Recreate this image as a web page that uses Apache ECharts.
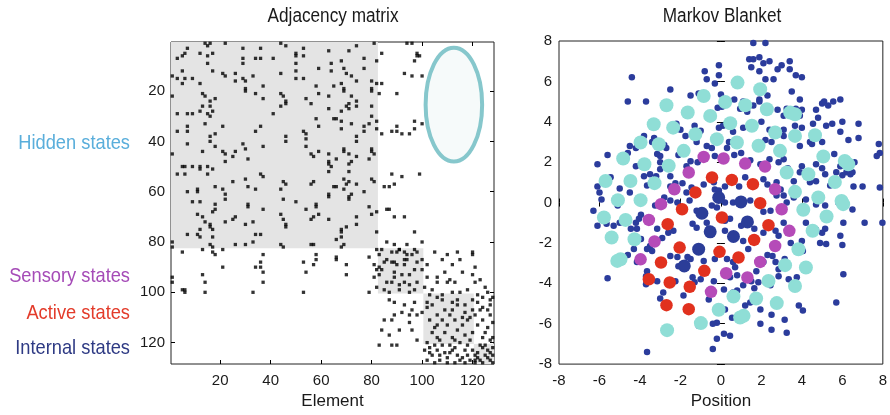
<!DOCTYPE html>
<html>
<head>
<meta charset="utf-8">
<script src="https://cdn.jsdelivr.net/npm/echarts@6/dist/echarts.min.js"></script>
<style>
html,body{margin:0;padding:0;background:#fff;}
#chart{width:890px;height:415px;}
</style>
</head>
<body>
<div id="chart"></div>
<script>
// ---------- DATA ----------
var matrixTicks = [20, 40, 60, 80, 100, 120];
var positionTicks = [-8, -6, -4, -2, 0, 2, 4, 6, 8];
var titles = ['Adjacency matrix', 'Markov Blanket'];
var stateNames = ['Hidden states', 'Sensory states', 'Active states', 'Internal states'];
// block boundaries (element index) for hidden, sensory, active, internal
var blockBounds = [[0.5, 82.5], [82.5, 100.5], [100.5, 120.5], [120.5, 128.5]];
// ellipse: centre col, centre row, half width, half height (elements)
var hiddenEllipse = [112.6, 25.4, 11.2, 22.6];

// adjacency matrix non-zero entries [column, row]
var matrixLinks = [
[7,3],[14,1],[15,2],[16,1],[22,1],[29,3],[36,3],[6,5],[5,6],[3,7],[12,5],[15,6],[17,5],[29,7],[34,7],[36,7],[41,7],[29,9],[15,9],[5,12],[17,12],[1,14],[3,15],[6,15],[9,15],[21,13],[22,14],[26,13],[29,15],[30,16],[33,14],[5,17],[12,17],[26,16],[37,18],[30,19],[30,20],[1,22],[13,21],[14,22],[34,21],[18,23],[16,24],[37,23],[13,26],[16,26],[17,28],[12,28],[15,29],[3,29],[7,29],[9,29],[16,30],[41,29],[14,33],[21,34],[36,34],[7,34],[3,36],[7,36],[34,36],[18,37],[16,38],[16,40],[29,41],[7,41],[18,42],[30,43],[37,42],
[44,1],[46,2],[53,3],[50,5],[50,6],[53,6],[63,4],[71,4],[74,2],[81,1],[84,5],[77,7],[82,8],[68,8],[64,9],[50,9],[59,11],[64,12],[69,11],[70,13],[72,14],[77,11],[44,13],[50,12],[50,15],[53,15],[74,16],[80,16],[82,17],[84,17],[68,17],[65,18],[58,18],[59,21],[69,19],[69,20],[80,19],[80,20],[83,21],[44,21],[45,22],[46,24],[46,25],[54,23],[56,25],[63,22],[72,22],[74,24],[71,25],[70,26],[71,27],[68,28],[44,26],[63,27],[80,26],[74,26],[58,31],[65,31],[66,31],[68,32],[72,33],[77,34],[79,33],[82,32],[80,30],[59,34],[68,35],[77,36],[82,35],[53,36],[54,37],[46,38],[46,40],[54,39],[54,42],[74,38],[74,40],[84,37],[69,43],[80,43],
[1,45],[13,44],[21,44],[22,45],[25,46],[26,44],[31,47],[22,48],[5,50],[6,50],[9,50],[12,50],[12,51],[15,50],[17,51],[3,53],[6,53],[15,53],[36,53],[37,54],[25,56],[30,55],[31,58],[34,59],[21,59],[22,61],[22,63],[18,58],[11,59],[11,60],[7,60],[9,64],[12,64],[18,65],[18,67],[17,68],[31,65],[31,66],[37,67],[11,69],[13,70],[14,72],[16,73],[16,74],[17,75],[22,72],[25,71],[26,70],[30,73],[33,72],[12,75],[7,77],[11,77],[12,78],[17,78],[34,77],[36,77],[33,80],[16,81],[17,82],[26,81],[30,81],[1,80],[1,82],[5,84],[13,83],[21,83],
[56,45],[57,46],[59,44],[63,45],[69,44],[71,45],[74,46],[80,44],[81,45],[63,48],[63,49],[64,50],[66,47],[71,49],[72,48],[79,47],[63,52],[71,52],[45,56],[46,57],[44,59],[56,57],[57,56],[65,58],[66,58],[69,55],[71,56],[70,57],[74,57],[69,59],[80,55],[81,56],[85,58],[77,60],[63,61],[63,62],[71,62],[72,61],[71,63],[45,63],[50,64],[58,65],[58,66],[54,67],[44,69],[45,71],[46,73],[46,74],[56,71],[57,70],[59,69],[63,71],[74,70],[74,73],[79,66],[80,69],[82,68],[68,75],[68,76],[70,74],[68,78],[66,79],[69,81],[68,82],[82,76],[44,81],[45,82],[56,81],[57,81],[84,83],[82,83],
[94,1],[96,1],[98,5],[99,6],[98,6],[97,8],[93,13],[96,14],[100,14],[90,21],[97,32],[100,33],[97,35],[90,34],[90,36],[88,36],[92,37],[95,37],[88,53],[92,54],[99,53],[89,57],[87,58],[86,67],[87,67],[89,70],[93,70],[97,76],[86,80],[100,80],[89,81],[91,83],[94,81],[97,83],[90,84],[93,84],[114,84],[120,84],
[17,84],[18,85],[21,90],[37,85],[36,88],[34,90],[36,90],[37,92],[37,96],[13,93],[14,96],[14,100],[1,94],[1,96],[5,99],[6,99],[6,100],[33,100],[53,88],[54,92],[53,100],[57,89],[58,87],[58,85],[66,86],[66,87],[70,89],[70,93],[79,86],[81,89],[82,91],[81,94],[82,98],[79,100],
[83,85],[85,88],[86,87],[88,84],[91,83],[90,89],[93,89],[94,85],[96,85],[98,84],[98,88],[100,91],[97,91],[95,93],[92,93],[89,92],[89,94],[88,96],[86,96],[84,91],[83,90],[83,93],[91,97],[93,96],[95,97],[98,96],[97,99],[95,100],[91,99],[87,100],[85,99],[88,88],[89,88],[93,87],[94,87],
[100,87],[105,84],[108,87],[110,85],[115,87],[120,85],[121,90],[120,93],[116,92],[112,89],[109,92],[106,94],[106,96],[110,96],[113,96],[111,95],[102,89],[102,94],[101,98],[104,99],
[108,101],[112,100],[115,100],[118,99],[121,96],[123,95],[124,102],[126,100],[127,103],[122,104],[120,103],[117,105],[114,103],[112,104],[108,103],[106,102],[103,101],[102,104],
[87,103],[89,104],[93,105],[97,104],[96,107],[92,108],[95,109],[89,109],[98,109],[100,108],[85,111],[88,111],[84,115],[87,117],[91,115],[95,112],[96,115],[98,119],[88,121],[90,121],[83,121],
[102,106],[104,105],[106,109],[109,107],[112,107],[114,105],[117,108],[120,107],[103,111],[106,113],[108,111],[110,113],[113,111],[116,113],[118,111],[104,116],[106,118],[109,116],[112,118],[114,115],[117,117],[120,116],[102,120],[105,121],[108,121],[111,121],[115,120],[118,121],[121,109],[122,113],[124,111],[125,116],[126,107],[127,109],[123,107],[124,118],[127,119],
[101,123],[103,124],[104,125],[106,123],[107,127],[109,124],[110,126],[112,123],[114,125],[115,127],[117,123],[118,125],[120,123],[121,127],[122,124],[124,122],[125,125],[126,123],[121,128],[124,128],[127,127],[102,127],[105,128],[110,128],[113,128],[117,128],
[123,121],[125,121],[128,122],[122,126],[126,126],[128,125],[123,127],[127,124],[128,128],[121,125],[103,122],[107,125],[111,124],[116,126],[119,127],[113,122],[128,118],[128,112],[126,114],[124,106],[127,105],[122,101],[125,98],[128,102],[119,110],[105,114],[111,109],[116,110],[107,119],[113,119],[119,119]
];

// Markov blanket positions [x, y]
var hiddenPos = [
[0.82,5.94],[1.94,5.61],[-0.85,5.28],[-2.69,4.82],[0.21,4.98],[1.20,4.82],[2.27,4.62],[-1.64,4.46],[-0.53,4.29],[-3.32,3.88],[-2.36,3.71],[0.46,3.93],[1.53,3.80],[3.42,4.46],[3.66,4.37],[2.68,3.47],[-1.26,3.38],[-0.20,3.14],[0.79,2.97],[3.66,3.30],[4.65,3.33],[-3.97,2.97],[-3.07,2.89],[-1.84,2.56],[1.86,2.81],[2.92,2.56],[5.06,2.28],[6.12,2.06],[6.29,1.90],[-4.83,2.18],[-3.78,1.90],[-2.58,1.82],[3.25,1.49],[4.32,1.40],[-5.70,1.07],[-4.47,1.07],[-3.28,0.96],[5.63,1.02],[3.66,0.53],[-5.09,0.12],[-3.97,0.12],[4.81,0.25],[5.96,0.08],[6.04,-0.08],[4.07,-0.36],[-5.78,-0.74],[-4.71,-0.86],[5.22,-0.69],[-4.27,-1.82],[-5.40,-1.73],[4.53,-1.40],[3.83,-2.31],[-5.12,-2.89],[-4.96,-2.81],[3.17,-3.10],[4.20,-3.22],[2.35,-3.88],[3.66,-4.13],[0.62,-4.65],[1.74,-4.75],[2.76,-4.98],[-0.11,-5.31],[1.12,-5.61],[0.95,-5.69],[-0.99,-5.97],[-2.66,-6.32]
];
var sensoryPos = [
[-0.85,2.26],[0.13,2.18],[1.20,1.93],[2.18,1.78],[-1.59,1.49],[-2.30,0.66],[2.68,0.66],[-2.96,-0.08],[3.00,-0.33],[-3.56,-0.86],[3.38,-1.40],[-3.28,-1.93],[2.68,-2.15],[1.94,-2.94],[-3.97,-2.81],[0.26,-3.50],[1.31,-3.71],[-0.49,-4.42]
];
var activePos = [
[-0.44,1.24],[0.54,1.12],[1.58,0.91],[-1.26,0.50],[1.94,-0.03],[-1.92,-0.33],[0.05,-0.74],[-2.63,-1.07],[2.35,-1.12],[1.64,-1.85],[-2.04,-2.23],[-0.07,-2.44],[-2.96,-2.97],[0.87,-2.72],[-0.82,-3.38],[-3.56,-3.80],[-2.53,-3.96],[-1.54,-4.17],[-2.69,-5.08],[-1.59,-5.28]
];
var internalPos = [
[-0.11,0.25],[0.99,0.03],[-0.94,-0.53],[1.31,-0.96],[-0.53,-1.45],[0.62,-1.68],[-1.10,-2.31],[-1.81,-3.14]
];
var particlePos = [
[1.6,7.9],[2.2,7.9],[1.4,7.1],[1.6,7.1],[1.9,7.2],[2.4,7.0],[3.4,7.0],[1.5,6.7],[2.1,6.9],[1.9,6.5],[2.8,6.6],[3.0,6.8],[3.4,6.6],[-0.8,6.5],[-0.1,6.8],[-4.4,6.2],[-0.7,6.1],[-0.1,6.3],[2.2,6.1],[3.7,6.3],[4.0,6.2],[2.6,6.1],[-0.3,5.9],[-2.5,5.6],[-4.6,5.0],[-3.7,5.0],[-1.5,5.3],[-1.1,5.4],[3.5,5.5],[1.9,5.1],[2.3,5.3],[0.0,5.35],[0.05,4.75],[0.66,5.1],[-0.16,4.7],[1.1,5.0],[1.6,4.8],[1.9,5.0],[1.3,4.5],[0.95,4.65],[2.8,4.6],[3.25,4.65],[3.9,5.1],[4.0,4.6],[3.7,4.65],[3.1,4.3],[3.9,4.3],[4.7,4.6],[5.0,4.9],[5.1,5.0],[5.55,5.0],[5.9,5.1],[5.3,4.8],[4.8,4.2],[4.55,3.9],[5.5,3.9],[6.0,4.0],[5.2,3.8],[6.3,3.1],[5.9,3.5],[6.8,3.2],[6.8,3.9],
[-0.1,3.7],[0.1,3.8],[-1.3,3.8],[-2.2,3.9],[-2.0,3.6],[-1.0,3.55],[0.6,3.5],[1.1,3.7],[2.0,4.0],[2.4,3.6],[3.1,3.6],[4.0,3.7],[4.4,3.0],[-1.75,3.3],[-1.2,3.0],[-0.7,2.8],[-0.45,2.7],[0.3,2.7],[0.4,3.0],[2.2,3.1],[2.5,3.0],[3.1,3.3],[3.66,3.8],[3.9,2.8],[4.5,2.9],[5.0,3.0],[-3.8,3.3],[-3.3,3.2],[-2.7,2.7],[-3.0,2.3],[-3.15,2.4],[-4.5,2.8],[-4.2,2.7],[-3.4,3.0],[-2.8,2.85],
[-5.6,2.35],[-6.1,1.9],[-4.6,2.45],[-4.2,1.8],[-3.5,1.4],[-3.0,2.0],[-2.1,2.35],[-1.5,2.05],[-1.7,1.8],[-1.15,2.0],[-0.3,2.3],[0.66,2.35],[1.0,2.45],[1.45,2.1],[1.95,1.9],[2.4,2.15],[2.85,2.0],[3.1,2.15],[3.3,1.7],[4.0,1.8],[4.7,1.9],[5.0,1.7],[5.6,2.4],[5.9,1.8],[6.2,1.5],[6.5,1.5],[6.6,2.0],[7.8,2.9],[7.85,2.45],[7.7,2.3],
[-6.1,0.8],[-6.0,0.5],[-5.45,1.25],[-5.0,0.7],[-5.9,0.15],[-5.1,-0.15],[-4.5,0.5],[-3.8,1.3],[-3.65,0.85],[-3.0,1.65],[-3.2,1.3],[-2.5,1.3],[-2.5,0.8],[-2.25,0.95],[-1.9,0.95],[-1.7,0.5],[-1.45,0.75],[-0.85,0.9],[-0.35,1.0],[-0.3,0.65],[-0.1,0.6],[0.2,0.8],[0.9,0.8],[1.2,1.25],[2.1,1.15],[2.3,0.9],[2.75,1.0],[2.95,0.65],[3.6,1.05],[3.9,1.5],[4.4,1.0],[4.7,1.05],[5.15,1.4],[5.4,0.85],[5.7,1.5],[6.0,1.35],[6.4,1.4],[7.0,0.8],[7.85,0.75],[6.55,0.8],
[-6.3,-0.4],[-6.1,-1.15],[-5.65,-1.05],[-5.3,-1.15],[-5.0,-1.0],[-4.2,-1.0],[-4.05,-0.8],[-4.15,-1.3],[-3.95,-0.6],[-3.25,-0.15],[-2.8,0.25],[-2.5,0.1],[-2.15,0.0],[-1.55,0.1],[-1.2,-0.4],[-0.45,-0.15],[-0.2,-0.25],[0.2,0.0],[0.6,0.0],[1.45,0.1],[2.1,-0.45],[2.45,-0.4],[2.75,0.35],[3.1,0.35],[3.25,0.0],[3.6,0.25],[4.2,0.15],[4.7,-0.1],[5.15,-0.15],[5.8,0.0],[6.5,-0.35],[7.1,-1.0],[7.98,-1.0],[6.05,-1.0],[5.15,-1.3],[5.0,-1.5],
[-4.45,-1.3],[-3.95,-1.8],[-4.3,-2.3],[-4.6,-2.6],[-3.5,-2.15],[-3.15,-1.3],[-2.9,-1.75],[-2.6,-1.5],[-2.35,-1.4],[-1.4,-1.05],[-1.2,-1.25],[-0.7,-1.0],[-0.6,-1.3],[0.2,-1.4],[0.2,-0.9],[0.45,-0.8],[1.0,-1.15],[1.1,-1.9],[1.65,-1.3],[2.1,-1.5],[2.7,-1.4],[3.1,-1.0],[2.85,-1.65],[3.45,-2.0],[4.0,-1.9],[4.2,-1.0],[4.7,-1.35],[4.9,-2.0],[5.2,-2.05],[6.0,-2.1],[5.9,-1.65],
[-4.15,-2.95],[-3.65,-3.4],[-3.4,-2.4],[-3.65,-2.3],[-2.5,-2.65],[-2.15,-2.7],[-2.1,-3.15],[-1.65,-2.7],[-1.5,-2.8],[-0.85,-2.9],[-0.3,-2.8],[0.3,-2.8],[0.6,-2.95],[0.7,-3.2],[1.35,-2.3],[1.75,-3.4],[2.1,-2.95],[2.3,-2.6],[2.7,-2.95],[2.85,-3.3],[3.15,-2.8],[3.35,-3.8],[2.55,-2.65],[1.85,-3.95],[4.05,-2.4],
[-5.6,-3.75],[-3.7,-4.05],[-3.15,-3.9],[-3.0,-4.75],[-3.7,-3.65],[-2.85,-4.45],[-2.25,-3.9],[-1.4,-3.7],[-1.3,-3.95],[-1.0,-3.8],[-0.35,-3.9],[0.45,-3.7],[0.8,-3.6],[1.5,-3.9],[1.1,-4.1],[0.15,-4.3],[2.45,-4.1],[2.85,-3.65],[3.75,-3.7],[6.05,-3.55],[1.65,-4.25],[0.8,-4.35],[0.6,-4.45],[-1.85,-4.6],[-0.6,-4.8],
[0.2,-5.3],[-0.2,-5.95],[-0.4,-6.0],[1.45,-4.95],[1.95,-5.3],[2.5,-5.55],[3.15,-5.8],[3.85,-5.1],[4.05,-5.35],[5.7,-4.95],[1.2,-5.1],[0.55,-5.7],[-1.1,-6.1],[-0.2,-6.75],[0.15,-6.5],[0.45,-6.6],[-0.4,-7.25],[1.95,-6.0],[2.5,-6.3],[3.25,-6.45],[-3.65,-7.4]
];

// ---------- STYLE ----------
var FONT = "'Liberation Sans', Arial, Helvetica, sans-serif";
var NARROW = 0.86; // horizontal squeeze to mimic the condensed Helvetica of the original
var colors = {
  hiddenLabel: '#5aaedb', sensoryLabel: '#a54bb7', activeLabel: '#e33b2a', internalLabel: '#2e3a84',
  hidden: '#8fded6', sensory: '#b54bb8', active: '#e1311e', internal: '#2b3d98', particle: '#2b3c9c'
};
var stateColors = [colors.hiddenLabel, colors.sensoryLabel, colors.activeLabel, colors.internalLabel];
var stateLabelY = [143, 276, 313, 348];

var chart = echarts.init(document.getElementById('chart'), null, {renderer: 'canvas'});

function baseAxis(extra) {
  var a = {
    axisLine: {show: false},
    splitLine: {show: false},
    axisTick: {show: true, inside: true, length: 4, lineStyle: {color: '#000', width: 1}},
    axisLabel: {color: '#1a1a1a', fontFamily: FONT, fontSize: 15}
  };
  for (var k in extra) a[k] = extra[k];
  return a;
}

var blockAreas = blockBounds.map(function (b) {
  return [{xAxis: b[0], yAxis: b[0]}, {xAxis: b[1], yAxis: b[1]}];
});

var graphics = [
  {type: 'text', x: 333, y: 16, scaleX: NARROW, silent: true,
   style: {text: titles[0], fill: '#1a1a1a', font: '20px ' + FONT, textAlign: 'center', textVerticalAlign: 'middle'}},
  {type: 'text', x: 722, y: 16, scaleX: NARROW, silent: true,
   style: {text: titles[1], fill: '#1a1a1a', font: '20px ' + FONT, textAlign: 'center', textVerticalAlign: 'middle'}}
];
stateNames.forEach(function (name, i) {
  graphics.push({type: 'text', x: 130, y: stateLabelY[i], scaleX: 0.87, silent: true,
    style: {text: name, fill: stateColors[i], font: '21px ' + FONT, textAlign: 'right', textVerticalAlign: 'middle'}});
});

var option = {
  animation: false,
  backgroundColor: '#fff',
  graphic: graphics,
  grid: [
    {left: 171, top: 42, width: 323, height: 322, show: true, borderColor: '#222', borderWidth: 1, backgroundColor: 'transparent'},
    {left: 559, top: 41, width: 325, height: 325, show: true, borderColor: '#222', borderWidth: 1, backgroundColor: 'transparent'}
  ],
  xAxis: [
    baseAxis({gridIndex: 0, type: 'value', min: 0.5, max: 128.5, position: 'bottom',
      axisTick: {show: true, inside: true, length: 4, customValues: matrixTicks, lineStyle: {color: '#000'}},
      axisLabel: {color: '#1a1a1a', fontFamily: FONT, fontSize: 15, margin: 9, customValues: matrixTicks},
      name: 'Element', nameLocation: 'middle', nameGap: 29,
      nameTextStyle: {fontFamily: FONT, fontSize: 17, color: '#1a1a1a'}}),
    baseAxis({gridIndex: 0, type: 'value', min: 0.5, max: 128.5, position: 'top',
      axisTick: {show: true, inside: true, length: 4, customValues: matrixTicks, lineStyle: {color: '#000'}},
      axisLabel: {show: false}}),
    baseAxis({gridIndex: 1, type: 'value', min: -8, max: 8, interval: 2, position: 'bottom',
      axisLabel: {color: '#1a1a1a', fontFamily: FONT, fontSize: 15, margin: 9, customValues: positionTicks},
      name: 'Position', nameLocation: 'middle', nameGap: 28,
      nameTextStyle: {fontFamily: FONT, fontSize: 17, color: '#1a1a1a'}}),
    baseAxis({gridIndex: 1, type: 'value', min: -8, max: 8, interval: 2, position: 'top', axisLabel: {show: false}})
  ],
  yAxis: [
    baseAxis({gridIndex: 0, type: 'value', min: 0.5, max: 128.5, inverse: true, position: 'left',
      axisTick: {show: true, inside: true, length: 4, customValues: matrixTicks, lineStyle: {color: '#000'}},
      axisLabel: {color: '#1a1a1a', fontFamily: FONT, fontSize: 15, margin: 6, customValues: matrixTicks}}),
    baseAxis({gridIndex: 0, type: 'value', min: 0.5, max: 128.5, inverse: true, position: 'right',
      axisTick: {show: true, inside: true, length: 4, customValues: matrixTicks, lineStyle: {color: '#000'}},
      axisLabel: {show: false}}),
    baseAxis({gridIndex: 1, type: 'value', min: -8, max: 8, interval: 2, position: 'left',
      axisLabel: {color: '#1a1a1a', fontFamily: FONT, fontSize: 15, margin: 7}}),
    baseAxis({gridIndex: 1, type: 'value', min: -8, max: 8, interval: 2, position: 'right', axisLabel: {show: false}})
  ],
  series: [
    {
      type: 'scatter', xAxisIndex: 0, yAxisIndex: 0, data: matrixLinks,
      symbol: 'rect', symbolSize: 3.3, itemStyle: {color: '#000'}, silent: true,
      markArea: {silent: true, itemStyle: {color: '#e4e4e4'}, data: blockAreas}, z: 3
    },
    {
      type: 'custom', xAxisIndex: 0, yAxisIndex: 0, data: [hiddenEllipse], silent: true, z: 4,
      renderItem: function (params, api) {
        var c = api.coord([api.value(0), api.value(1)]);
        var s = api.size([api.value(2), api.value(3)]);
        return {type: 'ellipse', shape: {cx: c[0], cy: c[1], rx: s[0], ry: s[1]},
          style: {fill: '#f6fafa', stroke: '#86c7cc', lineWidth: 4}};
      }
    },
    {type: 'scatter', xAxisIndex: 2, yAxisIndex: 2, data: particlePos, symbolSize: 6.5,
      itemStyle: {color: colors.particle, opacity: 1}, silent: true, z: 2},
    {type: 'scatter', xAxisIndex: 2, yAxisIndex: 2, data: hiddenPos, symbolSize: 14,
      itemStyle: {color: colors.hidden, opacity: 1}, silent: true, z: 3},
    {type: 'scatter', xAxisIndex: 2, yAxisIndex: 2, data: sensoryPos, symbolSize: 12.5,
      itemStyle: {color: colors.sensory, opacity: 1}, silent: true, z: 4},
    {type: 'scatter', xAxisIndex: 2, yAxisIndex: 2, data: activePos, symbolSize: 12.5,
      itemStyle: {color: colors.active, opacity: 1}, silent: true, z: 4},
    {type: 'scatter', xAxisIndex: 2, yAxisIndex: 2, data: internalPos, symbolSize: 13,
      itemStyle: {color: colors.internal, opacity: 1}, silent: true, z: 4}
  ]
};
chart.setOption(option);
</script>
</body>
</html>
